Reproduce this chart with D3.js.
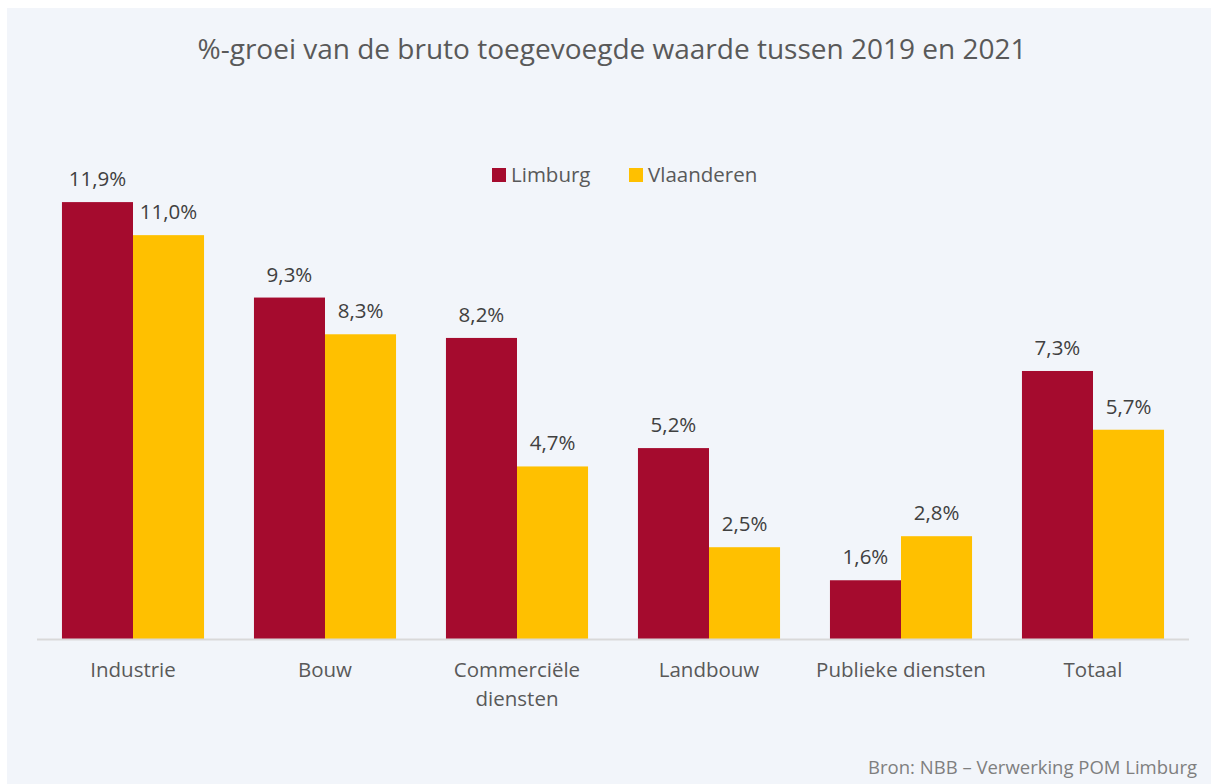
<!DOCTYPE html>
<html>
<head>
<meta charset="utf-8">
<script src="https://cdn.jsdelivr.net/npm/d3@7"></script>
<style>
  html, body { margin: 0; padding: 0; background: #ffffff; }
  svg { display: block; }
  text { font-family: "Open Sans", "Noto Sans", sans-serif; }
</style>
</head>
<body>
<div id="chart"></div>
<script>
// data
var categories = ["Industrie", "Bouw", "Commerciële diensten", "Landbouw", "Publieke diensten", "Totaal"];
var limburg    = [11.9, 9.3, 8.2, 5.2, 1.6, 7.3];
var vlaanderen = [11.0, 8.3, 4.7, 2.5, 2.8, 5.7];
var seriesNames = ["Limburg", "Vlaanderen"];

var W = 1211, H = 784;
var color_lim = "#a50b2e", color_vla = "#ffc000",
    text_dark = "#404040", text_mid = "#595959";

var svg = d3.select("#chart").append("svg")
    .attr("width", W)
    .attr("height", H);

// panel background
svg.append("rect")
    .attr("x", 7).attr("y", 8)
    .attr("width", W - 7).attr("height", H - 8)
    .attr("fill", "#f2f5fa");

var x0 = d3.scaleBand()
    .domain(categories)
    .range([37, 1189])
    .paddingInner(0.26)
    .paddingOuter(0.13);

var x1 = d3.scaleBand()
    .domain(seriesNames)
    .range([0, x0.bandwidth()]);

var y = d3.scaleLinear()
    .domain([0, 14])
    .range([639, 125]);

// title
svg.append("text")
    .attr("x", 612)
    .attr("y", 59)
    .attr("text-anchor", "middle")
    .style("font-size", "28px")
    .style("fill", text_mid)
    .text("%-groei van de bruto toegevoegde waarde tussen 2019 en 2021");

// legend
var legend = [
  {name: "Limburg", color: color_lim, x: 492},
  {name: "Vlaanderen", color: color_vla, x: 629}
];
var lg = svg.selectAll("g.legend")
    .data(legend)
  .enter().append("g")
    .attr("class", "legend")
    .attr("transform", function(d){ return "translate(" + d.x + ",168)"; });
lg.append("rect")
    .attr("width", 14).attr("height", 14)
    .attr("fill", function(d){ return d.color; });
lg.append("text")
    .attr("x", 19)
    .attr("y", 14)
    .style("font-size", "20.5px")
    .style("fill", text_mid)
    .text(function(d){ return d.name; });

// bars
var rows = categories.map(function(c, i){
  return {cat: c, values: [
    {s: "Limburg", v: limburg[i], color: color_lim},
    {s: "Vlaanderen", v: vlaanderen[i], color: color_vla}
  ]};
});

var groups = svg.selectAll("g.cat")
    .data(rows)
  .enter().append("g")
    .attr("class", "cat")
    .attr("transform", function(d){ return "translate(" + x0(d.cat) + ",0)"; });

groups.selectAll("rect")
    .data(function(d){ return d.values; })
  .enter().append("rect")
    .attr("x", function(d){ return x1(d.s); })
    .attr("y", function(d){ return y(d.v); })
    .attr("width", x1.bandwidth())
    .attr("height", function(d){ return y(0) - y(d.v); })
    .attr("fill", function(d){ return d.color; });

groups.selectAll("text.val")
    .data(function(d){ return d.values; })
  .enter().append("text")
    .attr("class", "val")
    .attr("x", function(d){ return x1(d.s) + x1.bandwidth() / 2; })
    .attr("y", function(d){ return y(d.v) - 16; })
    .attr("text-anchor", "middle")
    .style("font-size", "20.5px")
    .style("fill", text_dark)
    .text(function(d){ return d3.format(".1f")(d.v).replace(".", ",") + "%"; });

// axis line
svg.append("line")
    .attr("x1", 37).attr("x2", 1189)
    .attr("y1", y(0) + 0.5).attr("y2", y(0) + 0.5)
    .attr("stroke", "#d9d9d9")
    .attr("stroke-width", 2);

// category labels (wrapped where needed)
var labelLines = {"Commerciële diensten": ["Commerciële", "diensten"]};
svg.selectAll("text.cat")
    .data(categories)
  .enter().append("text")
    .attr("class", "cat")
    .attr("text-anchor", "middle")
    .style("font-size", "20.5px")
    .style("fill", text_mid)
    .each(function(c){
      var lines = labelLines[c] || [c];
      var t = d3.select(this);
      lines.forEach(function(l, i){
        t.append("tspan")
          .attr("x", x0(c) + x0.bandwidth() / 2)
          .attr("y", 677 + i * 29)
          .text(l);
      });
    });

// source
svg.append("text")
    .attr("x", 1197)
    .attr("y", 774)
    .attr("text-anchor", "end")
    .style("font-size", "18.5px")
    .style("fill", "#7f7f7f")
    .text("Bron: NBB – Verwerking POM Limburg");
</script>
</body>
</html>
